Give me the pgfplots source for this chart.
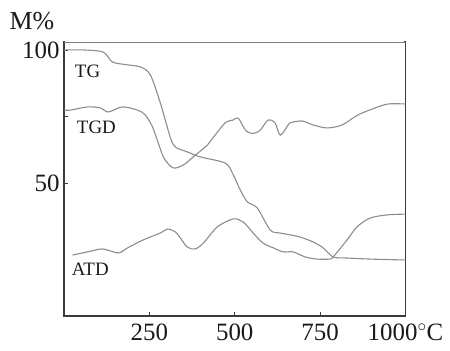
\documentclass[border=0pt]{standalone}
\usepackage{fontspec}
\setmainfont{Liberation Serif}
\usepackage{pgfplots}
\pgfplotsset{compat=1.18}
\definecolor{curve}{HTML}{8C8C8C}
\definecolor{frame}{HTML}{3A3A3A}
\begin{document}
\begin{tikzpicture}
\path[use as bounding box] (0,0) rectangle (450bp,351bp);
\begin{axis}[
  scale only axis, width=341.5bp, height=274bp,
  anchor=south west, at={(64bp,35bp)},
  xmin=0, xmax=1000, ymin=0, ymax=103,
  axis line style={frame, line width=1.1pt},
  xtick={250,500,750,1000}, xticklabels={250,500,750,1000$^{\circ}$C},
  ytick={50,75,100}, yticklabels={50,{},100},
  xtick pos=bottom, ytick pos=left, tick align=inside,
  major tick length=4pt, tick style={frame, line width=0.8pt},
  /pgf/number format/assume math mode=true,
  tick label style={font=\fontsize{25}{25}\selectfont, text=black!90},
  xticklabel style={yshift=-4bp},
  yticklabel style={xshift=-1bp},
]
% TG
\addplot[curve, line width=1.1pt, smooth, no markers] coordinates {
(0,100) (60,100) (115,99.2) (142,95.5) (180,94.5) (224,93.6) (253,90.6)
(282,80.1) (311,67.3) (326,63.5) (361,61.7) (399,59.8) (472,57.5)
(494,53.5) (516,47.4) (537,42.9) (566,40.6) (604,32.3) (633,31.2)
(662,30.5) (691,29.7) (730,27.8) (759,25.6) (788,22.2) (829,21.8)
(896,21.4) (984,21.1) (1000,21.1)
};
% TGD
\addplot[curve, line width=1.1pt, smooth, no markers] coordinates {
(0,77.4) (19,77.4) (69,78.6) (107,78.2) (130,76.7) (171,78.6) (215,77.4)
(238,75.6) (259,71.1) (273,66.2) (291,59.8) (311,56.4) (325,55.6)
(350,56.8) (385,60.5) (420,64.3) (438,67.3) (472,72.6) (496,73.7)
(510,74.4) (531,69.9) (545,68.8) (560,68.8) (575,69.9) (598,73.7)
(618,72.6) (633,68.0) (653,71.1) (662,72.6) (697,73.3) (730,71.8)
(770,70.7) (814,71.8) (861,75.6) (911,78.2) (949,79.7) (1000,79.7)
};
% ATD
\addplot[curve, line width=1.1pt, smooth, no markers] coordinates {
(25,22.9) (69,24.1) (113,25.2) (159,23.7) (186,25.6) (232,28.6)
(282,31.2) (303,32.7) (326,31.6) (341,29.3) (361,25.9) (384,25.2)
(408,27.4) (449,33.5) (496,36.5) (525,35.3) (554,31.2) (583,27.4)
(613,25.6) (642,24.1) (671,24.1) (706,22.2) (741,21.4) (779,21.4)
(788,22.2) (829,28.6) (858,33.5) (896,36.8) (946,38.0) (1000,38.3)
};
\draw[white, line width=1.6pt] (rel axis cs:0.004,1) -- (rel axis cs:0.996,1);
\draw[gray, line width=0.6pt] (rel axis cs:0,1) -- (rel axis cs:1,1);
\node[font=\fontsize{19}{19}\selectfont, text=black!90] at (axis cs:69,92) {TG};
\node[font=\fontsize{19}{19}\selectfont, text=black!90] at (axis cs:95,71) {TGD};
\node[font=\fontsize{19}{19}\selectfont, text=black!90] at (axis cs:77,17.7) {ATD};
\end{axis}
\node[font=\fontsize{26}{26}\selectfont, text=black!90] at (32bp,330bp) {M\%};
\end{tikzpicture}
\end{document}
